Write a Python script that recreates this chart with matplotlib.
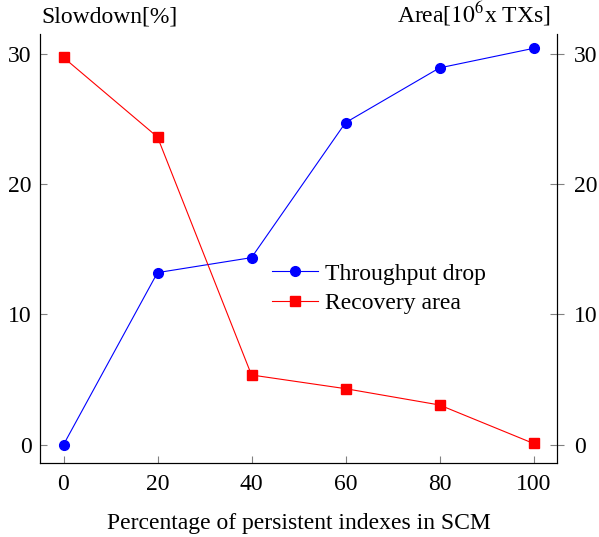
import matplotlib
matplotlib.use('Agg')
import matplotlib.pyplot as plt

# values
pct = [0, 20, 40, 60, 80, 100]
throughput_drop = [0.0, 13.2, 14.35, 24.7, 28.9, 30.4]
recovery_area = [29.7, 23.6, 5.35, 4.3, 3.05, 0.1]
yticks = [0, 10, 20, 30]

plt.rcParams['font.family'] = ['Liberation Serif', 'DejaVu Serif']
plt.rcParams['mathtext.fontset'] = 'stix'
FS = 17

fig = plt.figure(figsize=(5.99, 5.37), dpi=100)
ax = fig.add_axes([40/599, 1-463/537, (557-40)/599, (463-34)/537])
ax2 = ax.twinx()

l1, = ax.plot(pct, throughput_drop, '-o', color='blue', lw=0.8, ms=7,
              label='Throughput drop')
l2, = ax.plot(pct, recovery_area, '-s', color='red', lw=0.8, ms=6.5,
              label='Recovery area')

for a in (ax, ax2):
    a.set_xlim(-5, 105)
    a.set_ylim(-1.4, 31.5)
    a.spines['top'].set_visible(False)
    for s in ('left', 'right', 'bottom'):
        a.spines[s].set_linewidth(0.8)
    a.set_yticks(yticks)

ax.set_xticks(pct)
ax.tick_params(axis='x', direction='in', length=5, color='gray', labelsize=FS, pad=8)
ax.tick_params(axis='y', direction='in', length=5, color='gray', labelsize=FS, pad=6)
ax2.tick_params(axis='y', direction='inout', length=10, color='gray', labelsize=FS, pad=7)

ax.set_xlabel('Percentage of persistent indexes in SCM', fontsize=FS, labelpad=13)
fig.text(41/599, 1-23/537, 'Slowdown[%]', fontsize=FS, va='baseline', ha='left')
fig.text(551/599, 1-23/537, 'Area[$10^6$x TXs]', fontsize=FS, va='baseline', ha='right')

ax.legend(handles=[l1, l2], loc='upper left', bbox_to_anchor=(0.43, 0.488),
          frameon=False, fontsize=FS, handlelength=1.95, handletextpad=0.3,
          labelspacing=0.33, borderaxespad=0)

fig.savefig('out.png', dpi=100)
